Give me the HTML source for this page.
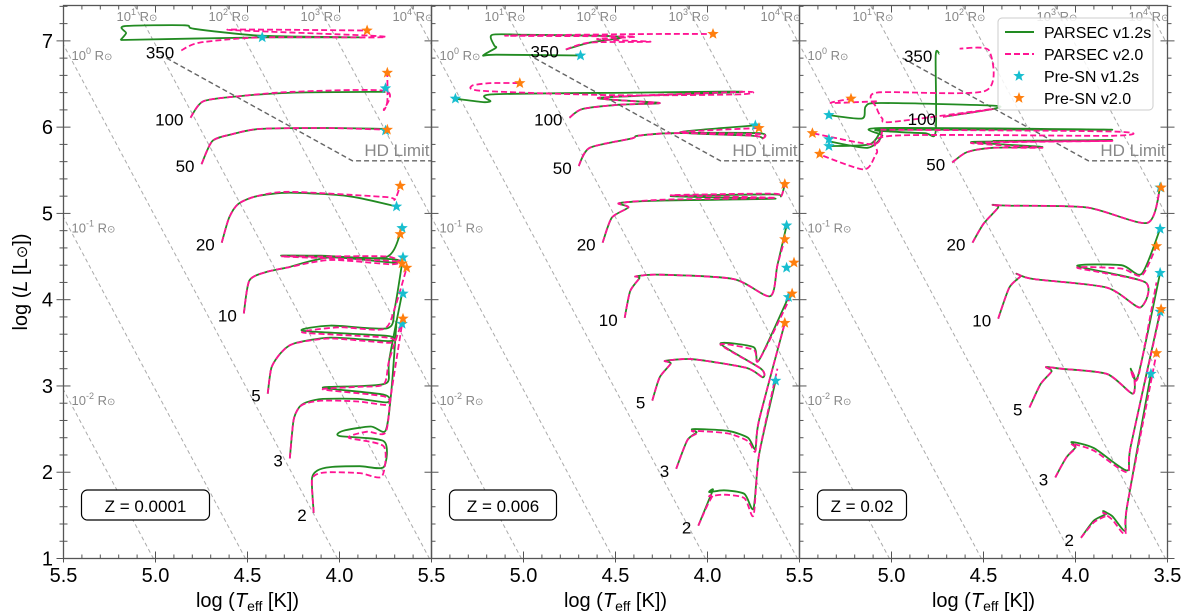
<!DOCTYPE html>
<html><head><meta charset="utf-8"><style>
body{margin:0;background:#fff}
svg{display:block;font-family:"Liberation Sans","DejaVu Sans",sans-serif}
</style></head><body>
<svg id="chart" width="1200" height="616" viewBox="0 0 1200 616" xmlns="http://www.w3.org/2000/svg">
<defs>
<clipPath id="c0"><rect x="63.5" y="5.5" width="368" height="553"/></clipPath>
<clipPath id="c1"><rect x="431.5" y="5.5" width="368" height="553"/></clipPath>
<clipPath id="c2"><rect x="799.5" y="5.5" width="368" height="553"/></clipPath>
</defs>
<g id="layer"></g>
</svg>
<script>
const NS="http://www.w3.org/2000/svg";
const masses=["2","3","5","10","20","50","100","350"];
const metallicities=["Z = 0.0001","Z = 0.006","Z = 0.02"];
const xTicks=[5.5,5.0,4.5,4.0,3.5];
const yTicks=[1,2,3,4,5,6,7];
const radiiExp=[-2,-1,0,1,2,3,4];
// Panel 1 (Z=0.0001) tracks [logT, logL]
const p1_v12=[
[[4.14,1.53],[4.15,1.92],[4.12,2.02],[4.05,2.06],[3.89,2.07],[3.76,2.06],[3.76,2.36],[4.0,2.42],[3.98,2.48],[3.83,2.53],[3.75,2.48],[3.72,2.9],[3.69,3.75]],
[[4.27,2.16],[4.25,2.6],[4.22,2.75],[4.18,2.81],[4.09,2.85],[3.9,2.85],[3.74,2.81],[3.76,2.9],[4.09,2.98],[3.88,3.0],[3.74,3.04],[3.73,3.3],[3.66,4.07]],
[[4.39,2.91],[4.37,3.21],[4.32,3.38],[4.25,3.49],[4.05,3.56],[3.73,3.52],[3.74,3.58],[4.2,3.64],[4.05,3.7],[3.74,3.67],[3.7,3.9],[3.655,4.49]],
[[4.52,3.84],[4.49,4.22],[4.4,4.32],[4.29,4.37],[4.05,4.49],[3.71,4.43],[3.72,4.47],[4.31,4.51],[4.1,4.51],[3.75,4.49],[3.67,4.76]],
[[4.64,4.66],[4.6,4.95],[4.55,5.11],[4.45,5.2],[4.27,5.24],[3.95,5.2],[3.69,5.08]],
[[4.75,5.57],[4.69,5.84],[4.58,5.92],[4.43,5.98],[4.07,5.99],[3.75,5.98]],
[[4.81,6.11],[4.74,6.3],[4.54,6.36],[4.25,6.4],[3.75,6.41]],
[[5.19,7.01],[5.16,7.09],[5.17,7.17],[4.84,7.18],[4.79,7.14],[4.43,7.06],[3.88,7.04],[4.43,7.04],[5.19,7.01]]];
const p1_v20=[
[[4.14,1.53],[4.15,1.9],[4.12,1.98],[4.05,2.0],[3.89,1.99],[3.77,1.95],[3.76,2.3],[3.95,2.4],[3.85,2.47],[3.75,2.46],[3.72,2.9],[3.66,3.72]],
[[4.27,2.16],[4.25,2.6],[4.22,2.75],[4.18,2.8],[4.09,2.83],[3.9,2.82],[3.74,2.78],[3.76,2.88],[4.09,2.96],[3.9,2.99],[3.76,3.02],[3.73,3.3],[3.655,3.78]],
[[4.39,2.91],[4.37,3.21],[4.32,3.38],[4.25,3.49],[4.05,3.55],[3.73,3.5],[3.74,3.56],[4.2,3.62],[4.0,3.68],[3.76,3.66],[3.7,3.9],[3.635,4.37]],
[[4.52,3.84],[4.49,4.22],[4.4,4.32],[4.29,4.37],[4.05,4.46],[3.72,4.41],[3.72,4.45],[4.31,4.5],[4.1,4.5],[3.74,4.5],[3.66,4.42]],
[[4.64,4.66],[4.6,4.95],[4.55,5.11],[4.45,5.2],[4.27,5.25],[3.75,5.19],[3.7,5.16],[3.67,5.32]],
[[4.75,5.57],[4.69,5.84],[4.58,5.92],[4.43,5.98],[4.07,5.99],[3.74,5.97]],
[[4.81,6.11],[4.74,6.3],[4.54,6.36],[4.25,6.41],[3.75,6.42],[3.76,6.2],[3.74,6.3],[3.74,6.63]],
[[4.86,6.89],[4.76,6.98],[4.43,7.04],[3.8,7.04],[3.83,7.06],[4.61,7.13],[3.85,7.12]]];
const p1_snA=[[4.42,7.04],[3.75,6.45],[3.75,5.96],[3.69,5.08],[3.66,4.83],[3.655,4.49],[3.655,4.07],[3.66,3.72]];
const p1_snB=[[3.85,7.12],[3.74,6.63],[3.74,5.97],[3.67,5.32],[3.67,4.76],[3.66,4.42],[3.635,4.37],[3.655,3.78]];
// Panel 2 (Z=0.006)
const p2_v12=[
[[4.05,1.38],[4.0,1.64],[3.97,1.8],[3.99,1.77],[3.91,1.79],[3.8,1.75],[3.75,1.58],[3.72,2.2],[3.63,3.06]],
[[4.17,2.04],[4.11,2.37],[4.06,2.46],[4.08,2.5],[3.89,2.48],[3.78,2.4],[3.74,2.27],[3.72,2.6],[3.58,3.73]],
[[4.3,2.83],[4.26,3.1],[4.2,3.26],[4.23,3.29],[4.08,3.31],[3.79,3.21],[3.7,3.1],[3.71,3.2],[3.93,3.49],[3.75,3.45],[3.72,3.3],[3.56,4.03]],
[[4.45,3.79],[4.42,4.1],[4.37,4.25],[4.39,4.27],[4.26,4.29],[3.86,4.24],[3.66,4.04],[3.62,4.4],[3.57,4.86]],
[[4.57,4.66],[4.52,4.95],[4.43,5.07],[4.48,5.12],[4.23,5.15],[3.63,5.17],[4.2,5.2],[3.65,5.22],[3.6,5.2],[3.58,5.34]],
[[4.7,5.55],[4.64,5.76],[4.41,5.87],[4.38,5.9],[4.19,5.93],[3.72,5.93],[3.7,5.87],[3.75,5.9],[4.15,5.94],[3.74,6.02]],
[[4.75,6.11],[4.68,6.21],[4.48,6.26],[4.26,6.28],[4.59,6.34],[3.81,6.41],[4.4,6.4],[5.17,6.38],[5.18,6.3],[5.22,6.29],[5.37,6.33]],
[[4.77,6.9],[4.64,6.98],[4.46,7.04],[4.6,7.06],[4.98,7.07],[5.17,7.07],[5.16,6.95],[5.15,6.92],[5.22,6.83],[5.15,6.84],[4.69,6.83]]];
const p2_v20=[
[[4.05,1.38],[4.0,1.62],[3.97,1.74],[3.99,1.72],[3.91,1.74],[3.8,1.7],[3.75,1.5],[3.72,2.2],[3.62,3.2]],
[[4.17,2.04],[4.11,2.37],[4.06,2.45],[4.08,2.48],[3.89,2.45],[3.78,2.36],[3.74,2.24],[3.72,2.6],[3.58,3.73]],
[[4.3,2.83],[4.26,3.1],[4.2,3.26],[4.23,3.29],[4.08,3.31],[3.79,3.21],[3.7,3.1],[3.71,3.2],[3.93,3.48],[3.75,3.42],[3.72,3.3],[3.54,4.07]],
[[4.45,3.79],[4.42,4.1],[4.37,4.25],[4.39,4.27],[4.26,4.29],[3.86,4.24],[3.66,4.04],[3.62,4.4],[3.58,4.7]],
[[4.57,4.66],[4.52,4.95],[4.43,5.07],[4.48,5.12],[4.23,5.16],[3.63,5.18],[4.2,5.21],[3.65,5.23],[3.6,5.2],[3.58,5.34]],
[[4.7,5.55],[4.64,5.76],[4.41,5.87],[4.38,5.9],[4.19,5.93],[3.72,5.92],[3.7,5.87],[3.75,5.9],[4.15,5.94],[3.72,5.99]],
[[4.75,6.11],[4.68,6.21],[4.48,6.26],[4.26,6.28],[4.59,6.34],[3.81,6.41],[3.83,6.38],[4.5,6.37],[5.22,6.42],[5.28,6.48],[5.18,6.51],[5.02,6.51]],
[[4.77,6.9],[4.64,6.98],[4.31,6.99],[4.6,7.02],[4.4,7.05],[5.1,7.06],[4.3,7.08],[3.97,7.08]]];
const p2_snA=[[4.69,6.83],[5.37,6.33],[3.74,6.02],[3.57,4.86],[3.57,4.37],[3.56,4.03],[3.63,3.06]];
const p2_snB=[[3.97,7.08],[5.02,6.51],[3.72,5.99],[3.58,5.34],[3.58,4.7],[3.53,4.43],[3.54,4.07],[3.58,3.73]];
// Panel 3 (Z=0.02)
const p3_v12=[
[[3.97,1.24],[3.9,1.44],[3.83,1.52],[3.85,1.55],[3.8,1.49],[3.73,1.32],[3.72,1.6],[3.59,3.14]],
[[4.11,1.94],[4.05,2.17],[4.0,2.29],[4.02,2.35],[3.9,2.28],[3.72,2.02],[3.7,2.3],[3.54,3.86]],
[[4.25,2.75],[4.19,3.02],[4.13,3.17],[4.16,3.22],[4.08,3.2],[3.83,3.14],[3.69,2.91],[3.68,3.1],[3.7,3.2],[3.66,3.12],[3.54,4.31]],
[[4.42,3.78],[4.36,4.14],[4.3,4.27],[4.32,4.3],[4.23,4.24],[3.83,4.14],[3.65,3.91],[3.62,4.2],[3.99,4.39],[3.75,4.4],[3.64,4.3],[3.54,4.82]],
[[4.56,4.66],[4.5,4.88],[4.42,5.07],[4.45,5.1],[4.37,5.09],[3.94,5.07],[3.61,4.89],[3.54,5.3]],
[[4.67,5.59],[4.59,5.71],[4.45,5.76],[4.18,5.77],[4.4,5.8],[4.55,5.83],[3.8,5.85],[4.45,5.84]],
[[4.72,6.12],[4.45,6.21],[4.45,6.25],[5.06,6.28],[5.14,6.24],[5.16,6.1],[5.34,6.14]],
[[4.74,6.85],[4.76,6.83],[4.76,5.95],[4.82,5.93],[5.06,5.97],[3.8,5.97],[5.06,5.99],[5.05,5.9],[5.13,5.76],[5.35,5.84]]];
const p3_v20=[
[[3.97,1.24],[3.9,1.42],[3.83,1.5],[3.85,1.53],[3.8,1.45],[3.73,1.28],[3.72,1.6],[3.56,3.38]],
[[4.11,1.94],[4.05,2.17],[4.0,2.28],[4.02,2.33],[3.9,2.25],[3.72,2.0],[3.7,2.3],[3.535,3.89]],
[[4.25,2.75],[4.19,3.02],[4.13,3.17],[4.16,3.22],[4.08,3.2],[3.83,3.14],[3.69,2.91],[3.68,3.1],[3.7,3.18],[3.66,3.1],[3.56,4.2]],
[[4.42,3.78],[4.36,4.14],[4.3,4.27],[4.32,4.3],[4.23,4.24],[3.83,4.14],[3.65,3.91],[3.62,4.2],[3.99,4.37],[3.75,4.36],[3.64,4.28],[3.56,4.62]],
[[4.56,4.66],[4.5,4.88],[4.42,5.07],[4.45,5.1],[4.37,5.09],[3.94,5.07],[3.61,4.89],[3.54,5.3]],
[[4.67,5.59],[4.59,5.71],[4.45,5.76],[4.18,5.76],[4.4,5.79],[4.55,5.82],[3.8,5.84],[4.45,5.83]],
[[4.72,6.12],[4.45,6.21],[5.0,6.06],[5.05,6.1],[5.08,6.22],[5.08,6.4],[4.49,6.42],[4.47,6.89],[4.63,6.91]],
[[5.06,5.97],[3.8,5.95],[3.8,5.9],[5.0,5.9],[5.08,5.7],[5.15,5.51],[5.4,5.69]]];
const p3_extraA=[[5.06,5.95],[5.12,5.8],[5.34,5.78]];
const p3_extraB=[[5.08,6.3],[5.33,6.28],[5.22,6.33]];
const p3_extraC=[[5.05,5.95],[5.1,5.8],[5.43,5.93]];
const p3_snA=[[5.34,6.14],[5.34,5.86],[5.34,5.78],[3.54,5.3],[3.54,4.82],[3.54,4.31],[3.54,3.86],[3.59,3.14]];
const p3_snB=[[5.22,6.33],[5.43,5.93],[5.39,5.69],[3.535,5.3],[3.56,4.62],[3.535,3.89],[3.56,3.38]];
const hdLimitT=[4.94,3.93,3.5];
const hdLimitL=[6.80,5.61,5.61];

const X0=[63.5,431.5,799.5];
const PW=368, TOP=5.5, BOT=558.5;
const Lmin=1.0, Lmax=7.41;
function sx(p,t){return X0[p]+(5.5-t)/2.0*PW;}
function sy(L){return BOT-(L-Lmin)/(Lmax-Lmin)*(BOT-TOP);}
const layer=document.getElementById('layer');
function mk(tag,attrs,parent){const e=document.createElementNS(NS,tag);for(const k in attrs)e.setAttribute(k,attrs[k]);(parent||layer).appendChild(e);return e;}
function pathD(p,pts){
  const P=pts.map(q=>[sx(p,q[0]),sy(q[1])]);
  let d='M'+P[0][0].toFixed(1)+' '+P[0][1].toFixed(1);
  const k=1/8;
  for(let i=0;i<P.length-1;i++){
    const p0=P[Math.max(0,i-1)],p1=P[i],p2=P[i+1],p3=P[Math.min(P.length-1,i+2)];
    const c1=[p1[0]+(p2[0]-p0[0])*k,p1[1]+(p2[1]-p0[1])*k];
    const c2=[p2[0]-(p3[0]-p1[0])*k,p2[1]-(p3[1]-p1[1])*k];
    d+='C'+c1[0].toFixed(1)+' '+c1[1].toFixed(1)+' '+c2[0].toFixed(1)+' '+c2[1].toFixed(1)+' '+p2[0].toFixed(1)+' '+p2[1].toFixed(1);
  }
  return d;
}
function star(cx,cy,r){let s='';for(let i=0;i<10;i++){const a=-Math.PI/2+i*Math.PI/5;const rr=i%2?r*0.42:r;s+=(i?'L':'M')+(cx+rr*Math.cos(a)).toFixed(1)+' '+(cy+rr*Math.sin(a)).toFixed(1);}return s+'Z';}

const panels=[
 {v12:p1_v12,v20:p1_v20,snA:p1_snA,snB:p1_snB,x12:[],x20:[]},
 {v12:p2_v12,v20:p2_v20,snA:p2_snA,snB:p2_snB,x12:[],x20:[]},
 {v12:p3_v12,v20:p3_v20,snA:p3_snA,snB:p3_snB,x12:[p3_extraA],x20:[p3_extraB,p3_extraC]}];

panels.forEach((P,p)=>{
  const g=mk('g',{'clip-path':'url(#c'+p+')'});
  
  
  radiiExp.forEach(k=>{
    const L1=Lmax, L0=Lmin;
    const t1=3.7613+(L1-2*k)/4, t0=3.7613+(L0-2*k)/4;
    const ln=mk('line',{x1:sx(p,t1),y1:sy(L1),x2:sx(p,t0),y2:sy(L0),stroke:'#aaa','stroke-width':1,'stroke-dasharray':'4 3'},g);
    
    
    let tx,ty;
    if(k<=0){const tl=5.5;const L=2*k+4*(tl-3.7613);tx=sx(p,tl)+8;ty=sy(L)+15;}
    else{tx=sx(p,3.7613+(Lmax-2*k)/4)-18;ty=21;}
    const tt=mk('text',{x:tx,y:ty,'font-size':13,fill:'#888'},g);
    
    
    tt.innerHTML='10<tspan dy="-6" font-size="9">'+k+'</tspan><tspan dy="6"> R</tspan><tspan font-size="10">⊙</tspan>';
  });
  const hd=mk('path',{d:hdLimitT.map((t,i)=>(i?'L':'M')+sx(p,t)+' '+sy(hdLimitL[i])).join(' '),fill:'none',stroke:'#666','stroke-width':1.4,'stroke-dasharray':'5 3'},g);
  
  
  const hdt=mk('text',{x:X0[p]+PW-2,y:sy(hdLimitL[1])-5,'font-size':17,fill:'#888','text-anchor':'end'},g);
  
  
  hdt.textContent='HD Limit';
  P.v12.concat(P.x12).forEach((tr,i)=>{
    const e=mk('path',{d:pathD(p,tr),fill:'none',stroke:'#228b22','stroke-width':1.8,'stroke-linejoin':'round'},g);
    
    
  });
  P.v20.concat(P.x20).forEach((tr,i)=>{
    const e=mk('path',{d:pathD(p,tr),fill:'none',stroke:'#ff1493','stroke-width':1.8,'stroke-dasharray':'6 3','stroke-linejoin':'round'},g);
    
    
  });
  P.snA.forEach(q=>{const e=mk('path',{d:star(sx(p,q[0]),sy(q[1]),6),fill:'#17becf'},g);
    
    });
  P.snB.forEach(q=>{const e=mk('path',{d:star(sx(p,q[0]),sy(q[1]),6),fill:'#ff7f0e'},g);
    
    });
  P.v12.forEach((tr,i)=>{
    const st=(p===0&&i===7)?P.v20[7][0]:tr[0];
    const e=mk('text',{x:sx(p,st[0])-7,y:sy(st[1])+8,'font-size':17,'text-anchor':'end',fill:'#000'},g);
    
    
    e.textContent=masses[i];
  });
  const bx=X0[p]+18, bw=p===0?128:(p===1?107:89);
  const zb=mk('rect',{x:bx,y:490,width:bw,height:30,rx:6,fill:'#fff',stroke:'#000','stroke-width':1.2});
  
  
  const zt=mk('text',{x:bx+bw/2,y:512,'font-size':17,'text-anchor':'middle'});
  
  
  zt.textContent=metallicities[p];
  const fr=mk('rect',{x:X0[p],y:TOP,width:PW,height:BOT-TOP,fill:'none',stroke:'#555','stroke-width':1.3});
  
  
  for(let t=5.5;t>=3.49;t-=0.1){
    const major=Math.abs(t*2-Math.round(t*2))<0.01;const l=major?7:4;const x=sx(p,t);
    const a=mk('line',{x1:x,y1:BOT-l,x2:x,y2:BOT+(major?4:0),stroke:'#555','stroke-width':1});
    
    const b=mk('line',{x1:x,y1:TOP,x2:x,y2:TOP+l,stroke:'#555','stroke-width':1});
    
  }
  xTicks.forEach(t=>{ if(p<2&&t===3.5)return;
    const e=mk('text',{x:sx(p,t),y:582,'font-size':20,'text-anchor':'middle'});
    
    e.textContent=t.toFixed(1);});
  const xl=mk('text',{x:X0[p]+PW/2,y:607,'font-size':20,'text-anchor':'middle'});
  
  xl.innerHTML='log (<tspan font-style="italic">T</tspan><tspan font-size="14" dy="4">eff</tspan><tspan dy="-4"> [K])</tspan>';
});
[63.5,431.5,799.5,1167.5].forEach((x,bi)=>{
  for(let L=1.0;L<=7.41;L+=0.2){
    const major=Math.abs(L-Math.round(L))<0.01;const l=major?7:4;const y=sy(L);
    const e=mk('line',{x1:x-(bi===0||major?l:0),y1:y,x2:x+l,y2:y,stroke:'#555','stroke-width':1});
    
  }
});
yTicks.forEach(L=>{const e=mk('text',{x:53,y:sy(L)+7,'font-size':20,'text-anchor':'end'});
  
  e.textContent=L;});
const yl=mk('text',{x:0,y:0,'font-size':20,'text-anchor':'middle',transform:'translate(27,282) rotate(-90)'});

yl.innerHTML='log (<tspan font-style="italic">L</tspan> [L<tspan font-size="15">⊙</tspan>])';
const lg=mk('g',{});

const lr=mk('rect',{x:998,y:18,width:155,height:92,rx:4,fill:'#fff','fill-opacity':0.85,stroke:'#ccc'},lg);

const legendLabels=['PARSEC v1.2s','PARSEC v2.0','Pre-SN v1.2s','Pre-SN v2.0'];
legendLabels.forEach((s,i)=>{
  const y=32+i*22;
  let m;
  if(i===0)m=mk('line',{x1:1005,y1:y,x2:1034,y2:y,stroke:'#228b22','stroke-width':2},lg);
  else if(i===1)m=mk('line',{x1:1005,y1:y,x2:1034,y2:y,stroke:'#ff1493','stroke-width':2,'stroke-dasharray':'6 3'},lg);
  else m=mk('path',{d:star(1019,y,6),fill:i===2?'#17becf':'#ff7f0e'},lg);
  
  const t=mk('text',{x:1044,y:y+6,'font-size':16},lg);
  
  t.textContent=s;
});
</script>
</body></html>
